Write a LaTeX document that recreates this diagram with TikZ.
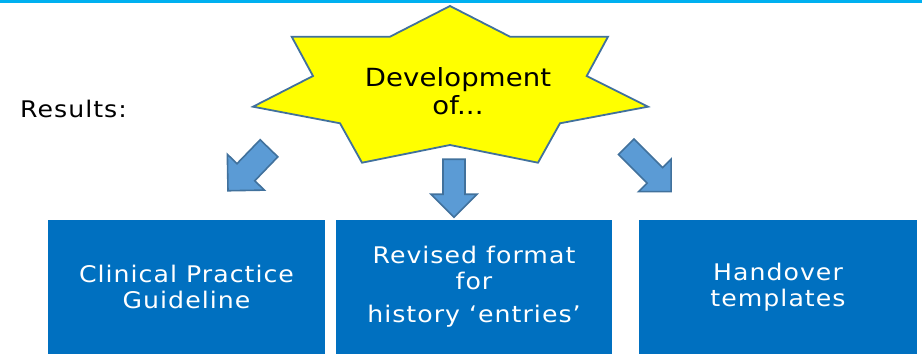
\documentclass[tikz,border=0pt]{standalone}
\usepackage{fontspec}
\setmainfont{DejaVu Sans}[FakeStretch=1.1, LetterSpace=4.5]
\newfontfamily\starfont{DejaVu Sans}[FakeStretch=1.1, LetterSpace=0.5]
\usetikzlibrary{positioning}
\definecolor{topline}{RGB}{0,176,240}
\definecolor{boxblue}{RGB}{0,112,192}
\definecolor{arrowblue}{RGB}{91,155,213}
\definecolor{edgeblue}{RGB}{65,113,156}
\definecolor{staryellow}{RGB}{255,255,0}

\begin{document}
\begin{tikzpicture}[x=1pt, y=-1pt,
    result/.style={rectangle, fill=boxblue, text=white, minimum width=277pt,
                   minimum height=134pt, align=center, inner sep=0pt,
                   font=\fontsize{22.9}{25.7}\selectfont},
    blockarr/.pic={\draw[fill=arrowblue, draw=edgeblue, line width=1.6pt]
        (0,-11) -- (#1-23,-11) -- (#1-23,-23) -- (#1,0) -- (#1-23,23)
        -- (#1-23,11) -- (0,11) -- cycle;}
]
    \useasboundingbox (0,0) rectangle (922,358);

    % Top rule
    \fill[topline] (0,0) rectangle (922,3);

    % Star
    \draw[fill=staryellow, draw=edgeblue, line width=1.8pt]
        (450,6) -- (510,36.7) -- (608,36.7) -- (586.7,76) -- (648,106.7)
        -- (560,123.3) -- (538,162.7) -- (450,145) -- (362,162.7)
        -- (340,123.3) -- (253,106.7) -- (313,76) -- (291.7,36.7)
        -- (390,36.7) -- cycle;
    \node[font=\starfont\fontsize{25}{28.3}\selectfont, align=center] (dev)
        at (458,91.4) {Development\\of...};

    % Label
    \node[anchor=base west, inner sep=0pt, font=\fontsize{22.9}{25}\selectfont]
        (results) at (20,117.3) {Results:};

    % Arrows
    \pic[rotate=-134, scale=1.12] at (269,148.3) {blockarr=52.7};
    \pic[rotate=-90] at (454,159.3) {blockarr=58};
    \pic[rotate=-45] at (626.2,146.7) {blockarr=63.5};

    % Results boxes
    \node[result] (cpg) at (186.5,287) {Clinical Practice\\Guideline};
    \node[result, minimum width=276pt] (format) at (474,287)
        {Revised format\\for\\[7.6pt]history ‘entries’};
    \node[result, minimum width=278pt] (handover) at (778,287) {Handover\\templates};
\end{tikzpicture}
\end{document}
